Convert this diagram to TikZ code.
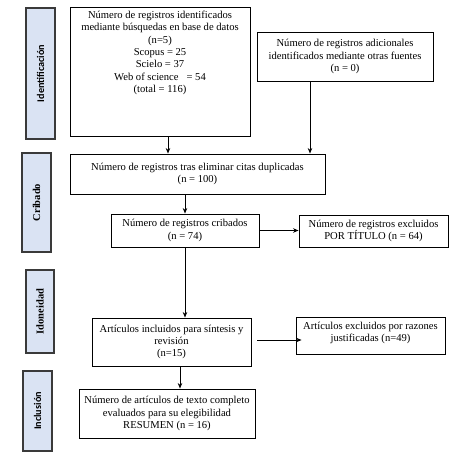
\documentclass[tikz,border=0pt]{standalone}
\usepackage{fontspec}
\setmainfont{Liberation Serif}
\newfontfamily\lblsans{Carlito}
\usetikzlibrary{arrows.meta}
\definecolor{sidefill}{HTML}{DAE3F3}
\definecolor{sidedraw}{HTML}{3A3A3A}
\begin{document}
\begin{tikzpicture}[x=1pt,y=-1pt,
  box/.style={draw=black, line width=0.9pt, fill=white, inner sep=0pt, align=center,
    font=\fontsize{10.6}{12.3}\selectfont},
  txt/.style={align=center, inner sep=0pt, font=\fontsize{10.6}{12.3}\selectfont},
  side/.style={draw=sidedraw, fill=sidefill, line width=1.5pt, inner sep=0pt, rotate=90},
  sansl/.style={font=\lblsans\bfseries\fontsize{10.2}{12}\selectfont},
  serifl/.style={font=\bfseries\fontsize{10.5}{12}\selectfont},
  arr/.style={-{Stealth[length=5.5pt,width=4.5pt]}, line width=1pt}]
\fill[white] (0,0) rectangle (470,455);
\useasboundingbox (0,0) rectangle (470,455);
% side labels
\node[side, sansl, minimum width=131pt, minimum height=29pt] (s1) at (40.5,73.5) {Identificación};
\node[side, serifl, minimum width=99pt, minimum height=29pt] (s2) at (36.5,202.5) {Cribado};
\node[side, serifl, minimum width=83pt, minimum height=28pt] (s3) at (40,311.5) {Idoneidad};
\node[side, sansl, minimum width=80pt, minimum height=29pt] (s4) at (37.5,411) {Inclusión};
% boxes
\node[box, minimum width=180pt, minimum height=129pt] (b1) at (160,71.5) {};
\node[txt, anchor=north] (t1) at (160,11) {Número de registros identificados\\mediante búsquedas en base de datos\\(n=5)\\Scopus = 25\\Scielo = 37\\Web of science \ \ = 54\\(total = 116)};
\node[box, minimum width=176pt, minimum height=49pt] (b2) at (345,56.5) {Número de registros adicionales\\identificados mediante otras fuentes\\(n = 0)};
\node[box, minimum width=255pt, minimum height=40pt] (b3) at (197.5,174) {Número de registros tras eliminar citas duplicadas\\(n = 100)};
\node[box, minimum width=148pt, minimum height=33pt] (b4) at (185,230.5) {Número de registros cribados\\(n = 74)};
\node[box, minimum width=149pt, minimum height=32pt] (b5) at (373.5,231) {Número de registros excluidos\\POR TÍTULO (n = 64)};
\node[box, minimum width=159pt, minimum height=48pt] (b6) at (171.5,342) {Artículos incluidos para síntesis y\\revisión\\(n=15)};
\node[box, minimum width=149pt, minimum height=37pt] (b7) at (370.5,335.5) {};
\node[txt] (t7) at (370.5,333) {Artículos excluidos por razones\\justificadas (n=49)};
\node[box, minimum width=176pt, minimum height=49pt] (b8) at (167,413.5) {Número de artículos de texto completo\\evaluados para su elegibilidad\\RESUMEN (n = 16)};
% connectors
\draw[arr] ([xshift=8pt]b1.south) -- ([xshift=8pt]b1.south |- b3.north);
\draw[arr] ([xshift=-35pt]b2.south) -- ([xshift=-35pt]b2.south |- b3.north);
\draw[arr] (b4.north |- b3.south) -- (b4.north);
\draw[arr] (b4.east) -- (b4.east -| b5.west);
\draw[arr] (b4.south) -- (b4.south |- b6.north);
\draw[arr] ([xshift=6pt,yshift=2pt]b6.east) -- ([xshift=6pt,yshift=2pt]b6.east -| b7.west);
\draw[arr] ([xshift=8.5pt]b6.south) -- ([xshift=8.5pt]b6.south |- b8.north);
\end{tikzpicture}
\end{document}
